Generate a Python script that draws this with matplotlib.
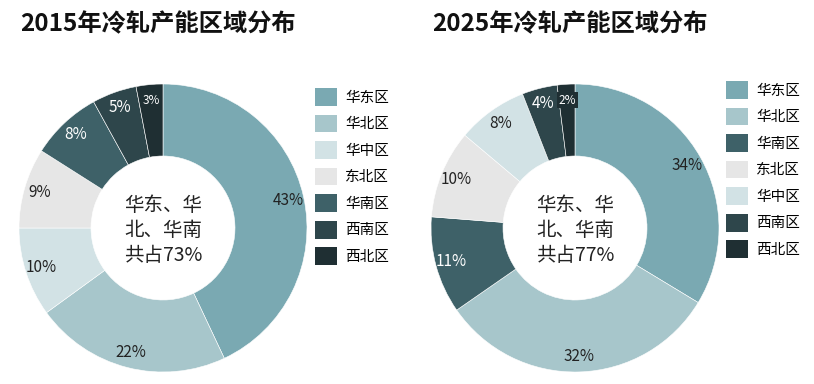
import numpy as np
import matplotlib.pyplot as plt
from matplotlib.patches import Patch

plt.rcParams['font.family'] = ['Noto Sans CJK SC', 'DejaVu Sans']

# 数据
titles = ["2015年冷轧产能区域分布", "2025年冷轧产能区域分布"]
regions_2015 = ["华东区", "华北区", "华中区", "东北区", "华南区", "西南区", "西北区"]
values_2015 = [43, 22, 10, 9, 8, 5, 3]
regions_2025 = ["华东区", "华北区", "华南区", "东北区", "华中区", "西南区", "西北区"]
values_2025 = [34, 32, 11, 10, 8, 4, 2]
center_texts = ["华东、华\n北、华南\n共占73%", "华东、华\n北、华南\n共占77%"]

colors = {
    "华东区": "#7aa9b2",
    "华北区": "#a7c6cb",
    "华中区": "#d2e2e5",
    "东北区": "#e6e6e6",
    "华南区": "#3e6168",
    "西南区": "#2e464b",
    "西北区": "#1f2f33",
}
dark = {"华南区", "西南区", "西北区"}

W, H = 814, 384
fig = plt.figure(figsize=(W / 100, H / 100), dpi=100)


def px_axes(cx, cy, r):
    return fig.add_axes([(cx - r) / W, (H - cy - r) / H, 2 * r / W, 2 * r / H])


panels = [
    (regions_2015, values_2015, 163, 228, 20, 315, 88),
    (regions_2025, values_2025, 575, 228, 432, 726, 81),
]

for k, (regs, vals, cx, cy, tx, lx, ly) in enumerate(panels):
    ax = px_axes(cx, cy, 144)
    cols = [colors[r] for r in regs]
    wedges, _ = ax.pie(vals, colors=cols, startangle=90, counterclock=False,
                       radius=1, wedgeprops=dict(width=0.5, edgecolor='white', linewidth=0.4))
    ax.set_xlim(-1, 1)
    ax.set_ylim(-1, 1)
    ax.set_aspect('equal')

    for w, v, r in zip(wedges, vals, regs):
        ang = np.deg2rad((w.theta1 + w.theta2) / 2)
        d = 0.89
        x, y = d * np.cos(ang), d * np.sin(ang)
        c = 'white' if r in dark else '#222222'
        fs = 8.5 if v <= 3 else 11
        kw = {}
        if k == 1 and v <= 2:
            kw['bbox'] = dict(boxstyle='square,pad=0.15', fc=colors[r], ec='none')
        ax.text(x, y, f"{v}%", ha='center', va='center', color=c, fontsize=fs, **kw)

    ax.text(0, -0.02, center_texts[k], ha='center', va='center', fontsize=14,
            color='#222222', linespacing=1.25)

    fig.text(tx / W, 1 - 24 / H, titles[k], fontsize=17.5, fontweight='bold',
             ha='left', va='center', color='#111111')

    handles = [Patch(facecolor=colors[r], edgecolor='none') for r in regs]
    fig.legend(handles, regs, loc='upper left', bbox_to_anchor=(lx / W, 1 - ly / H),
               frameon=False, fontsize=10.5, handlelength=1.5, handleheight=1.5,
               labelspacing=0.6, handletextpad=0.55, borderpad=0, borderaxespad=0)

fig.savefig("out.png", dpi=100)
